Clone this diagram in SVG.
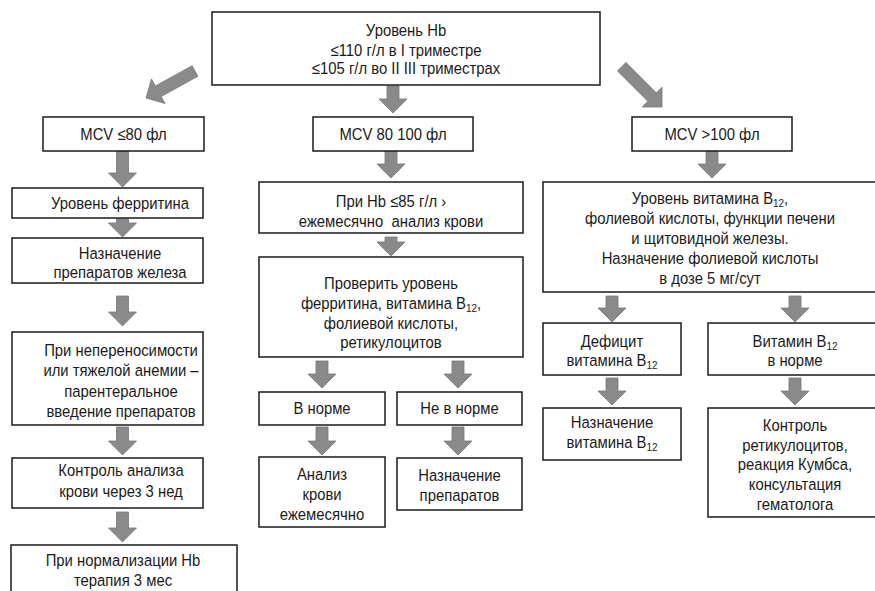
<svg xmlns="http://www.w3.org/2000/svg" width="875" height="591" viewBox="0 0 875 591">
<style>
.box{fill:#fff;stroke:#1a1a1a;stroke-width:1.5}
.t{font-family:"Liberation Sans",Arial,sans-serif;font-size:16.5px;fill:#1a1a1a;text-anchor:middle}
.s{font-size:11px}
.ar{fill:#8a8a8a;stroke:#777;stroke-width:0.8}
</style>
<rect width="875" height="591" fill="#fff"/>
<g id="connectors">
<polygon class="ar" points="192.1,65.74 155.37,85.98 151.51,78.97 146,98 165.03,103.51 161.17,96.5 197.9,76.26"/>
<polygon class="ar" points="625.94,62.46 656.34,92.86 662,87.2 662,107 642.2,107 647.86,101.34 617.46,70.94"/>
<polygon class="ar" points="387,86 399,86 399,99 407,99 393,113 379,99 387,99"/>
<polygon class="ar" points="116.5,151 128.5,151 128.5,173 136.5,173 122.5,187 108.5,173 116.5,173"/>
<polygon class="ar" points="116.5,219 128.5,219 128.5,223 136.5,223 122.5,237 108.5,223 116.5,223"/>
<polygon class="ar" points="116.5,296 128.5,296 128.5,312 136.5,312 122.5,326 108.5,312 116.5,312"/>
<polygon class="ar" points="116.5,427 128.5,427 128.5,441 136.5,441 122.5,455 108.5,441 116.5,441"/>
<polygon class="ar" points="116.5,512 128.5,512 128.5,528 136.5,528 122.5,542 108.5,528 116.5,528"/>
<polygon class="ar" points="385,151 397,151 397,164 405,164 391,178 377,164 385,164"/>
<polygon class="ar" points="385,237 397,237 397,242 405,242 391,256 377,242 385,242"/>
<polygon class="ar" points="316,361 328,361 328,374 336,374 322,388 308,374 316,374"/>
<polygon class="ar" points="452,361 464,361 464,374 472,374 458,388 444,374 452,374"/>
<polygon class="ar" points="316,427 328,427 328,441 336,441 322,455 308,441 316,441"/>
<polygon class="ar" points="452,427 464,427 464,441 472,441 458,455 444,441 452,441"/>
<polygon class="ar" points="706,151 718,151 718,164 726,164 712,178 698,164 706,164"/>
<polygon class="ar" points="606,296 618,296 618,308 626,308 612,322 598,308 606,308"/>
<polygon class="ar" points="789,296 801,296 801,308 809,308 795,322 781,308 789,308"/>
<polygon class="ar" points="606,378 618,378 618,391 626,391 612,405 598,391 606,391"/>
<polygon class="ar" points="789,378 801,378 801,391 809,391 795,405 781,391 789,391"/>
</g>
<g id="n-top">
<rect class="box" x="212" y="12" width="388" height="73"/>
<text class="t" transform="translate(406 36) scale(0.9 1)">Уровень Hb</text>
<text class="t" transform="translate(406 56) scale(0.9 1)">≤110 г/л в I триместре</text>
<text class="t" transform="translate(406 74) scale(0.9 1)">≤105 г/л во II III триместрах</text>
</g>
<g id="n-mcv80">
<rect class="box" x="43" y="117" width="161" height="34"/>
<text class="t" transform="translate(123.5 140) scale(0.9 1)">MCV ≤80 фл</text>
</g>
<g id="n-mcv80-100">
<rect class="box" x="313" y="117" width="160" height="34"/>
<text class="t" transform="translate(393 140) scale(0.9 1)">MCV 80 100 фл</text>
</g>
<g id="n-mcv100">
<rect class="box" x="632" y="117" width="160" height="34"/>
<text class="t" transform="translate(712 140) scale(0.9 1)">MCV &gt;100 фл</text>
</g>
<g id="n-ferritin">
<rect class="box" x="12" y="188" width="191" height="30"/>
<text class="t" transform="translate(120 209) scale(0.9 1)">Уровень ферритина</text>
</g>
<g id="n-iron">
<rect class="box" x="12" y="238" width="191" height="45"/>
<text class="t" transform="translate(120 259) scale(0.9 1)">Назначение</text>
<text class="t" transform="translate(120 278) scale(0.9 1)">препаратов железа</text>
</g>
<g id="n-parenteral">
<rect class="box" x="12" y="332" width="191" height="93"/>
<text class="t" transform="translate(121 355.5) scale(0.9 1)">При непереносимости</text>
<text class="t" transform="translate(121 376) scale(0.9 1)">или тяжелой анемии –</text>
<text class="t" transform="translate(121 397) scale(0.9 1)">парентеральное</text>
<text class="t" transform="translate(121 417) scale(0.9 1)">введение препаратов</text>
</g>
<g id="n-control">
<rect class="box" x="12" y="458" width="191" height="50"/>
<text class="t" transform="translate(121 475.5) scale(0.9 1)">Контроль анализа</text>
<text class="t" transform="translate(121 497) scale(0.9 1)">крови через 3 нед</text>
</g>
<g id="n-normal">
<rect class="box" x="11" y="545" width="226" height="60"/>
<text class="t" transform="translate(123 565.5) scale(0.9 1)">При нормализации Hb</text>
<text class="t" transform="translate(123 585.5) scale(0.9 1)">терапия 3 мес</text>
</g>
<g id="n-hb85">
<rect class="box" x="259" y="182" width="264" height="51"/>
<text class="t" transform="translate(391 207) scale(0.9 1)">При Hb ≤85 г/л ›</text>
<text class="t" transform="translate(391 227) scale(0.9 1)" xml:space="preserve">ежемесячно  анализ крови</text>
</g>
<g id="n-check">
<rect class="box" x="259" y="257" width="264" height="100"/>
<text class="t" transform="translate(391 289) scale(0.9 1)">Проверить уровень</text>
<text class="t" transform="translate(391 309) scale(0.9 1)">ферритина, витамина B<tspan class="s" dy="3">12</tspan><tspan dy="-3">,</tspan></text>
<text class="t" transform="translate(391 329) scale(0.9 1)">фолиевой кислоты,</text>
<text class="t" transform="translate(391 348) scale(0.9 1)">ретикулоцитов</text>
</g>
<g id="n-norm">
<rect class="box" x="259" y="392" width="126" height="33"/>
<text class="t" transform="translate(322 413.5) scale(0.9 1)">В норме</text>
</g>
<g id="n-notnorm">
<rect class="box" x="397" y="392" width="125" height="33"/>
<text class="t" transform="translate(459.5 413.5) scale(0.9 1)">Не в норме</text>
</g>
<g id="n-monthly">
<rect class="box" x="259" y="457" width="126" height="70"/>
<text class="t" transform="translate(322 480) scale(0.9 1)">Анализ</text>
<text class="t" transform="translate(322 500) scale(0.9 1)">крови</text>
<text class="t" transform="translate(322 520) scale(0.9 1)">ежемесячно</text>
</g>
<g id="n-drugs">
<rect class="box" x="397" y="458" width="125" height="52"/>
<text class="t" transform="translate(459.5 481) scale(0.9 1)">Назначение</text>
<text class="t" transform="translate(459.5 501) scale(0.9 1)">препаратов</text>
</g>
<g id="n-b12level">
<rect class="box" x="543" y="182" width="335" height="110"/>
<text class="t" transform="translate(710 204) scale(0.9 1)">Уровень витамина B<tspan class="s" dy="3">12</tspan><tspan dy="-3">,</tspan></text>
<text class="t" transform="translate(710 224) scale(0.9 1)">фолиевой кислоты, функции печени</text>
<text class="t" transform="translate(710 244) scale(0.9 1)">и щитовидной железы.</text>
<text class="t" transform="translate(710 264) scale(0.9 1)">Назначение фолиевой кислоты</text>
<text class="t" transform="translate(710 284) scale(0.9 1)">в дозе 5 мг/сут</text>
</g>
<g id="n-deficit">
<rect class="box" x="543" y="323" width="138" height="52"/>
<text class="t" transform="translate(612 347) scale(0.9 1)">Дефицит</text>
<text class="t" transform="translate(612 366) scale(0.9 1)">витамина B<tspan class="s" dy="3">12</tspan></text>
</g>
<g id="n-b12norm">
<rect class="box" x="708" y="323" width="175" height="52"/>
<text class="t" transform="translate(795 347) scale(0.9 1)">Витамин B<tspan class="s" dy="3">12</tspan></text>
<text class="t" transform="translate(795 366) scale(0.9 1)">в норме</text>
</g>
<g id="n-b12rx">
<rect class="box" x="543" y="408" width="138" height="52"/>
<text class="t" transform="translate(612 428) scale(0.9 1)">Назначение</text>
<text class="t" transform="translate(612 448) scale(0.9 1)">витамина B<tspan class="s" dy="3">12</tspan></text>
</g>
<g id="n-reticulo">
<rect class="box" x="708" y="408" width="175" height="109"/>
<text class="t" transform="translate(795 431) scale(0.9 1)">Контроль</text>
<text class="t" transform="translate(795 451) scale(0.9 1)">ретикулоцитов,</text>
<text class="t" transform="translate(795 470) scale(0.9 1)">реакция Кумбса,</text>
<text class="t" transform="translate(795 490) scale(0.9 1)">консультация</text>
<text class="t" transform="translate(795 510) scale(0.9 1)">гематолога</text>
</g>
</svg>
